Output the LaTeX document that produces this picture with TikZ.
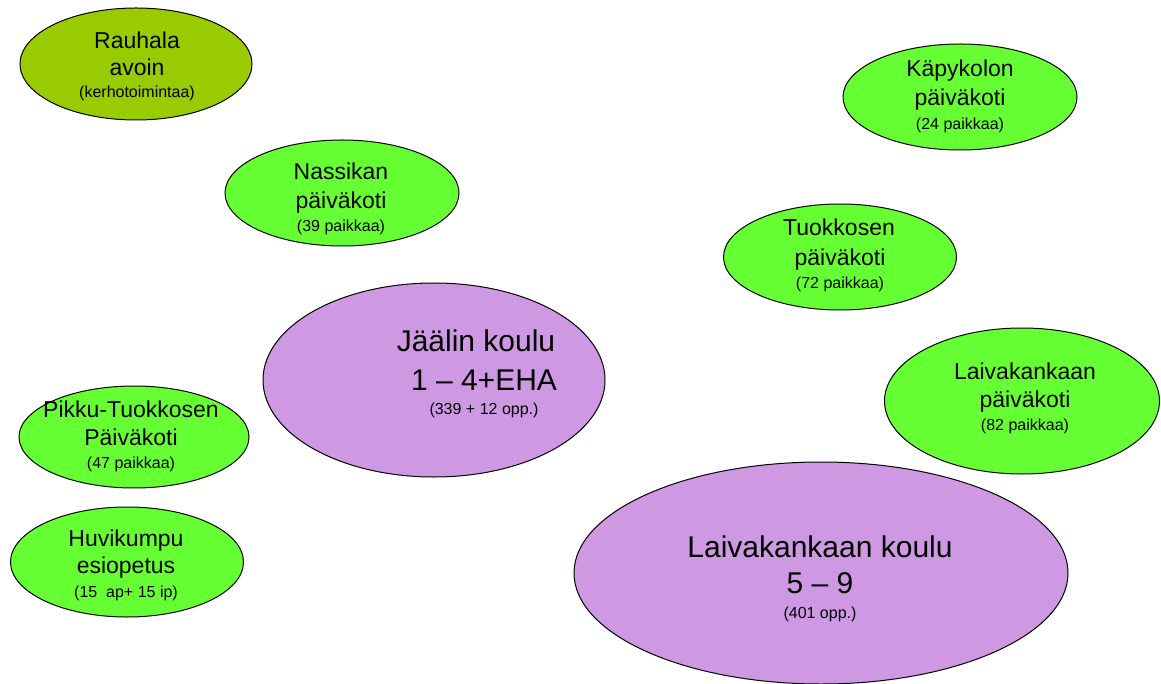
\documentclass[tikz,border=0pt]{standalone}
\usepackage{fontspec}
\setmainfont{Liberation Sans}
\usetikzlibrary{shapes.geometric}
\definecolor{olive}{RGB}{153,204,0}
\definecolor{lgreen}{RGB}{102,255,51}
\definecolor{lilac}{RGB}{206,153,226}
\tikzset{
  ell/.style={ellipse, draw=black, line width=1pt, inner sep=0pt},
  big/.style={anchor=base, inner sep=0pt, font=\fontsize{23}{27}\selectfont},
  huge/.style={anchor=base, inner sep=0pt, font=\fontsize{30}{36}\selectfont},
  small/.style={anchor=base, inner sep=0pt, font=\fontsize{16}{19}\selectfont}
}
\begin{document}
\begin{tikzpicture}[x=1pt,y=-1pt]
\useasboundingbox (0,0) rectangle (1161,684);
% ellipses
\node[ell, fill=olive, minimum width=232, minimum height=112] (rauhala) at (136,64) {};
\node[ell, fill=lgreen, minimum width=234, minimum height=106] (kapy) at (960,97) {};
\node[ell, fill=lgreen, minimum width=234, minimum height=106] (nassi) at (342,193) {};
\node[ell, fill=lgreen, minimum width=233, minimum height=106] (tuok) at (840,257) {};
\node[ell, fill=lilac, minimum width=342, minimum height=194] (jaali) at (434,380) {};
\node[ell, fill=lgreen, minimum width=275, minimum height=146] (laivp) at (1022,401) {};
\node[ell, fill=lgreen, minimum width=230, minimum height=102] (pikku) at (134,437) {};
\node[ell, fill=lgreen, minimum width=233, minimum height=110] (huvi) at (127,562) {};
\node[ell, fill=lilac, minimum width=494, minimum height=222] (laivk) at (821,573) {};
% texts
\node[big] (rauhala1) at (137,49) {Rauhala};
\node[big] (rauhala2) at (137,76) {avoin};
\node[small] (rauhala3) at (137,98) {(kerhotoimintaa)};
\node[big] (kapy1) at (960,77) {Käpykolon};
\node[big] (kapy2) at (960,106) {päiväkoti};
\node[small] (kapy3) at (960,130) {(24 paikkaa)};
\node[big] (nassi1) at (341,180) {Nassikan};
\node[big] (nassi2) at (341,209) {päiväkoti};
\node[small] (nassi3) at (341,232) {(39 paikkaa)};
\node[big] (tuok1) at (839,236) {Tuokkosen};
\node[big] (tuok2) at (840,266) {päiväkoti};
\node[small] (tuok3) at (840,289) {(72 paikkaa)};
\node[huge] (jaali1) at (476,352) {Jäälin koulu};
\node[huge] (jaali2) at (484,390) {1 – 4+EHA};
\node[small] (jaali3) at (484,414) {(339 + 12 opp.)};
\node[big] (laivp1) at (1025,379) {Laivakankaan};
\node[big] (laivp2) at (1025,407) {päiväkoti};
\node[small] (laivp3) at (1025,430) {(82 paikkaa)};
\node[big] (pikku1) at (131,417) {Pikku-Tuokkosen};
\node[big] (pikku2) at (131,445) {Päiväkoti};
\node[small] (pikku3) at (131,468) {(47 paikkaa)};
\node[big] (huvi1) at (126,546) {Huvikumpu};
\node[big] (huvi2) at (126,573) {esiopetus};
\node[small] (huvi3) at (126,597) {(15\ \ ap+ 15 ip)};
\node[huge] (laivk1) at (820,557) {Laivakankaan koulu};
\node[huge] (laivk2) at (820,593) {5 – 9};
\node[small] (laivk3) at (820,618) {(401 opp.)};
\end{tikzpicture}
\end{document}
